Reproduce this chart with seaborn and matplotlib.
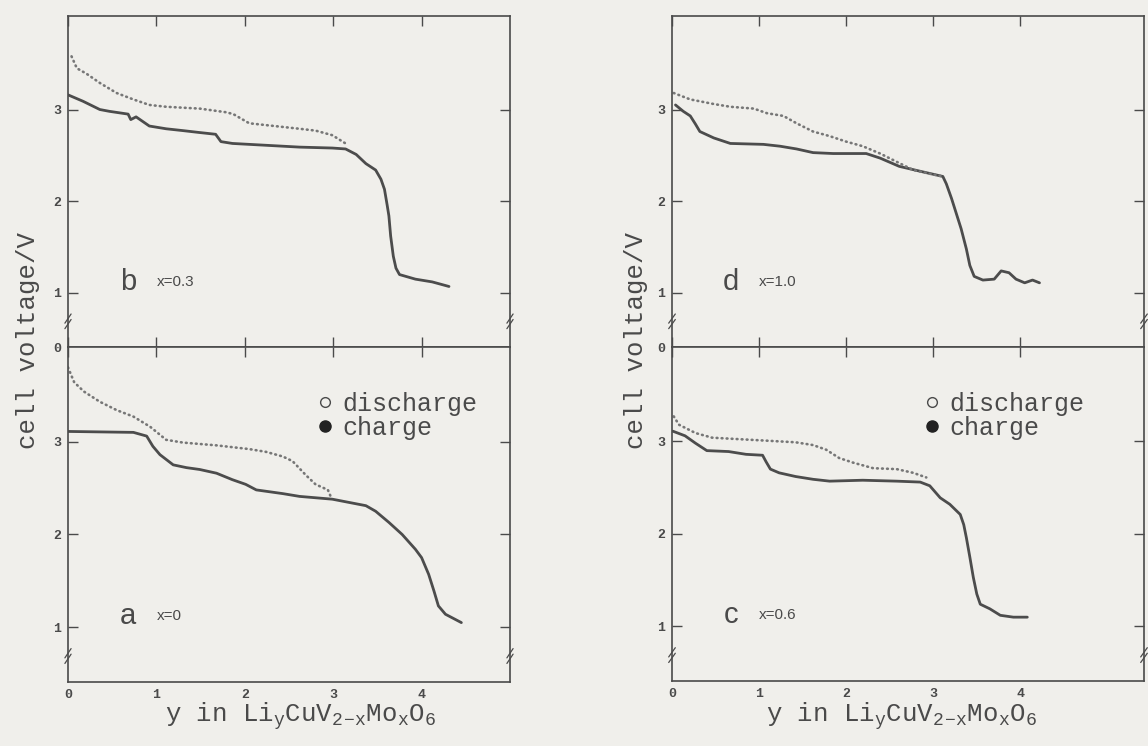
import matplotlib
matplotlib.use('Agg')
import matplotlib.pyplot as plt
from matplotlib.lines import Line2D
import seaborn as sns

# ---- data (y in Li_yCuV2-xMoxO6, cell voltage / V) ----
# panel b, x=0.3
b_dis_y = [0.04, 0.10, 0.21, 0.36, 0.55, 0.74, 0.92, 1.11, 1.49, 1.79, 1.87, 2.05, 2.24, 2.62, 2.80, 2.99, 3.14]
b_dis_v = [3.58, 3.45, 3.39, 3.29, 3.18, 3.11, 3.05, 3.03, 3.01, 2.97, 2.95, 2.85, 2.83, 2.79, 2.77, 2.72, 2.63]
b_chg_y = [0.0, 0.17, 0.36, 0.47, 0.68, 0.71, 0.77, 0.92, 1.11, 1.30, 1.48, 1.67, 1.73, 1.86, 2.24, 2.62, 2.99,
           3.14, 3.26, 3.37, 3.48, 3.54, 3.58, 3.61, 3.63, 3.65, 3.68, 3.71, 3.75, 3.93, 4.12, 4.31]
b_chg_v = [3.16, 3.09, 3.00, 2.98, 2.95, 2.89, 2.92, 2.82, 2.79, 2.77, 2.75, 2.73, 2.65, 2.63, 2.61, 2.59, 2.58,
           2.57, 2.51, 2.41, 2.34, 2.24, 2.13, 1.96, 1.84, 1.62, 1.40, 1.27, 1.20, 1.15, 1.12, 1.07]

# panel a, x=0
a_dis_y = [0.0, 0.07, 0.18, 0.36, 0.55, 0.74, 0.93, 1.11, 1.30, 1.68, 2.05, 2.24, 2.43, 2.54, 2.69, 2.80, 2.94, 2.98]
a_dis_v = [3.80, 3.64, 3.54, 3.43, 3.34, 3.27, 3.16, 3.02, 2.99, 2.96, 2.92, 2.89, 2.84, 2.79, 2.64, 2.54, 2.48, 2.39]
a_chg_y = [0.0, 0.74, 0.89, 0.96, 1.04, 1.19, 1.34, 1.49, 1.68, 1.86, 2.01, 2.13, 2.43, 2.62, 2.99, 3.37, 3.48,
           3.63, 3.78, 3.93, 4.00, 4.08, 4.14, 4.19, 4.27, 4.45]
a_chg_v = [3.11, 3.10, 3.06, 2.95, 2.86, 2.75, 2.72, 2.70, 2.66, 2.59, 2.54, 2.48, 2.44, 2.41, 2.38, 2.31, 2.25,
           2.13, 2.00, 1.84, 1.75, 1.57, 1.39, 1.23, 1.14, 1.05]

# panel d, x=1.0
d_dis_y = [0.02, 0.21, 0.48, 0.67, 0.94, 1.09, 1.28, 1.43, 1.62, 1.81, 2.00, 2.19, 2.39, 2.58, 2.77, 2.96, 3.11]
d_dis_v = [3.18, 3.11, 3.06, 3.03, 3.01, 2.96, 2.93, 2.85, 2.76, 2.71, 2.65, 2.60, 2.52, 2.43, 2.34, 2.30, 2.27]
d_chg_y = [0.04, 0.13, 0.21, 0.27, 0.32, 0.48, 0.67, 1.05, 1.24, 1.43, 1.62, 1.85, 2.23, 2.39, 2.61, 2.88, 3.11,
           3.15, 3.21, 3.26, 3.32, 3.38, 3.42, 3.47, 3.57, 3.70, 3.78, 3.87, 3.95, 4.05, 4.14, 4.22]
d_chg_v = [3.05, 2.98, 2.93, 2.84, 2.76, 2.69, 2.63, 2.62, 2.60, 2.57, 2.53, 2.52, 2.52, 2.47, 2.38, 2.32, 2.27,
           2.19, 2.03, 1.88, 1.70, 1.48, 1.30, 1.18, 1.14, 1.15, 1.24, 1.22, 1.15, 1.11, 1.14, 1.11]

# panel c, x=0.6
c_dis_y = [0.02, 0.08, 0.27, 0.46, 0.65, 1.04, 1.42, 1.62, 1.77, 1.92, 2.08, 2.31, 2.58, 2.77, 2.92]
c_dis_v = [3.27, 3.18, 3.09, 3.04, 3.03, 3.01, 2.99, 2.96, 2.91, 2.82, 2.77, 2.71, 2.70, 2.66, 2.61]
c_chg_y = [0.01, 0.15, 0.27, 0.40, 0.65, 0.85, 1.04, 1.08, 1.13, 1.23, 1.42, 1.62, 1.81, 2.19, 2.58, 2.85, 2.96,
           3.08, 3.19, 3.31, 3.35, 3.38, 3.42, 3.46, 3.50, 3.54, 3.65, 3.77, 3.92, 4.08]
c_chg_v = [3.11, 3.06, 2.98, 2.90, 2.89, 2.86, 2.85, 2.78, 2.70, 2.66, 2.62, 2.59, 2.57, 2.58, 2.57, 2.56, 2.52,
           2.39, 2.32, 2.21, 2.10, 1.96, 1.75, 1.53, 1.35, 1.24, 1.19, 1.12, 1.10, 1.10]

letters = ['b', 'a', 'd', 'c']
compositions = ['x=0.3', 'x=0', 'x=1.0', 'x=0.6']
y_ticks = [1, 2, 3]
x_ticks = [0, 1, 2, 3, 4]
x_tick_labels = ['0', '1', '2', '3', '4']
legend_labels = ['discharge', 'charge']
y_label = 'cell voltage/V'
x_label = r'y in Li$_\mathregular{y}$CuV$_\mathregular{2\!-\!x}$Mo$_\mathregular{x}$O$_\mathregular{6}$'

PAPER = '#f0efeb'
INK = '#4a4a4a'
DARK = '#4c4c4c'
LIGHT = '#777777'
MONO = ['Liberation Mono', 'DejaVu Sans Mono']
SANS = ['Liberation Sans', 'DejaVu Sans']
YLO, YHI = 0.41, 4.02

sns.set_theme(style='ticks')
plt.rcParams['font.family'] = MONO
plt.rcParams['axes.edgecolor'] = INK
plt.rcParams['axes.linewidth'] = 1.2

W, H = 1148, 746
fig = plt.figure(figsize=(W / 100, H / 100), dpi=100, facecolor=PAPER)


def px_rect(l, t, r, b):
    return [l / W, 1 - b / H, (r - l) / W, (b - t) / H]


def add_break(ax, yv):
    tr = ax.get_yaxis_transform()
    for xa in (0.0, 1.0):
        for dy in (-0.03, 0.03):
            ax.add_line(Line2D([xa - 0.007, xa + 0.007], [yv + dy - 0.05, yv + dy + 0.05],
                               transform=tr, color=INK, lw=0.9, clip_on=False))


def draw_panel(ax, dis_y, dis_v, chg_y, chg_v, letter, comp, xmax, bottom):
    ax.set_facecolor(PAPER)
    sns.lineplot(x=chg_y, y=chg_v, ax=ax, sort=False, estimator=None, color=DARK, lw=2.0)
    sns.lineplot(x=dis_y, y=dis_v, ax=ax, sort=False, estimator=None, color=LIGHT, lw=1.9,
                 linestyle=(0, (0.3, 1.6)), dash_capstyle='round')
    ax.set_xlim(0, xmax)
    ax.set_ylim(YLO, YHI)
    ax.set_xticks(x_ticks)
    ax.set_yticks([YLO] + y_ticks if not bottom else y_ticks)
    ax.set_yticklabels(['0'] + [str(t) for t in y_ticks] if not bottom else [str(t) for t in y_ticks])
    ax.tick_params(direction='in', length=7, width=1, colors=INK, top=True, right=True,
                   labelsize=9.5, pad=5)
    if bottom:
        ax.set_xticklabels(x_tick_labels)
        ax.tick_params(axis='x', bottom=False)
    else:
        ax.tick_params(axis='x', labelbottom=False)
    for lab in ax.get_xticklabels() + ax.get_yticklabels():
        lab.set_fontweight('bold')
    ax.set_xlabel('')
    ax.set_ylabel('')
    for s in ax.spines.values():
        s.set_visible(True)
    add_break(ax, 0.69)
    ax.text(0.68, 1.12, letter, fontsize=21, family=SANS, color=INK, ha='center', va='center')
    ax.text(1.0, 1.12, comp, fontsize=11, family=SANS, color=INK, ha='left', va='center')


rects = [px_rect(68, 16, 510, 347), px_rect(68, 347, 510, 682),
         px_rect(672, 16, 1144, 347), px_rect(672, 347, 1144, 681)]
xmaxes = [5.0, 5.0, 5.42, 5.42]
series = [(b_dis_y, b_dis_v, b_chg_y, b_chg_v), (a_dis_y, a_dis_v, a_chg_y, a_chg_v),
          (d_dis_y, d_dis_v, d_chg_y, d_chg_v), (c_dis_y, c_dis_v, c_chg_y, c_chg_v)]

for i, (rect, xmax, data, letter, comp) in enumerate(zip(rects, xmaxes, series, letters, compositions)):
    ax = fig.add_axes(rect)
    bottom = i % 2 == 1
    draw_panel(ax, *data, letter, comp, xmax, bottom)
    if bottom:
        handles = [Line2D([], [], ls='', marker='o', ms=7, mfc='none', mec=INK, mew=1.0),
                   Line2D([], [], ls='', marker='o', ms=8, mfc='#222222', mec='#222222')]
        ax.legend(handles, legend_labels, loc='upper left', bbox_to_anchor=(0.565 if i == 1 else 0.535, 0.865),
                  frameon=False, prop={'family': MONO, 'size': 18}, labelcolor=INK,
                  handlelength=0.6, handletextpad=0.4, labelspacing=0.0, borderpad=0, borderaxespad=0)

for xc in (28, 636):
    fig.text(xc / W, 1 - 340 / H, y_label, rotation=90, ha='center', va='center',
             fontsize=18.5, family=MONO, color=INK)
for xc in (301, 902):
    fig.text(xc / W, 1 - 716 / H, x_label, ha='center', va='center',
             fontsize=18.5, family=MONO, color=INK)

fig.savefig('out.png', dpi=100, facecolor=PAPER)
